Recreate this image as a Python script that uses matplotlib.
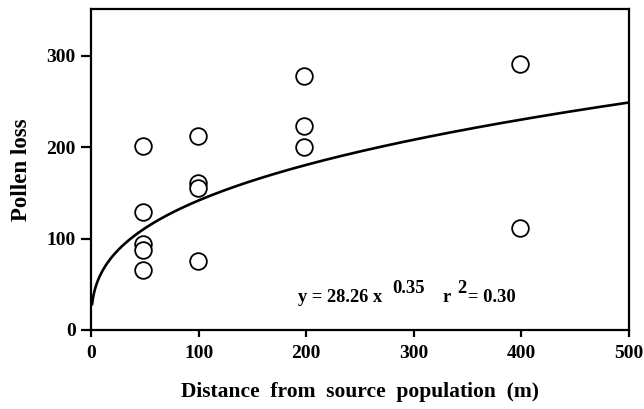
import numpy as np
import matplotlib
matplotlib.use('Agg')
import matplotlib.pyplot as plt

# distance from source (m) and pollen loss
distance = [48, 48, 48, 48, 48, 99, 99, 99, 99, 198, 198, 198, 399, 399]
pollen_loss = [201, 129, 94, 88, 66, 212, 161, 155, 75, 278, 223, 200, 291, 112]

# power fit y = a * x^b
fit_a = 28.26
fit_b = 0.35

x_ticks = [0, 100, 200, 300, 400, 500]
y_ticks = [0, 100, 200, 300]

plt.rcParams['font.family'] = ['Liberation Serif', 'DejaVu Serif']
plt.rcParams['font.weight'] = 'bold'

fig = plt.figure(figsize=(6.44, 4.09), dpi=100)
ax = fig.add_axes([0.1413, 0.1932, 0.8354, 0.7848])

xs = np.linspace(1, 500, 400)
ax.plot(xs, fit_a * xs ** fit_b, color='black', lw=1.9)
ax.plot(distance, pollen_loss, 'o', ms=12, mfc='white', mec='black', mew=1.3,
        linestyle='none')

ax.set_xlim(0, 500)
ax.set_ylim(0, 351)
ax.set_xticks(x_ticks)
ax.set_yticks(y_ticks)
ax.tick_params(axis='y', direction='out', length=7, width=1.6, labelsize=14, pad=4)
ax.tick_params(axis='x', direction='out', length=5, width=1.6, labelsize=14, pad=6)
for lab in ax.get_xticklabels() + ax.get_yticklabels():
    lab.set_fontweight('bold')
for sp in ax.spines.values():
    sp.set_linewidth(1.6)

ax.set_xlabel('Distance  from  source  population  (m)', fontsize=15.5,
              fontweight='bold', labelpad=14)
ax.set_ylabel('Pollen loss', fontsize=16.5, fontweight='bold', labelpad=10)

# fit equation, superscripts raised as separate pieces
eq_kw = dict(fontsize=13.3, fontweight='bold', ha='left', va='baseline')
sup_kw = dict(fontsize=13.3, fontweight='bold', ha='left', va='baseline')
ax.text(192, 31, 'y = 28.26 x', **eq_kw)
ax.text(280, 40, '0.35', **sup_kw)
ax.text(327, 31, 'r', **eq_kw)
ax.text(340, 40, '2', **sup_kw)
ax.text(350, 31, '= 0.30', **eq_kw)

fig.savefig('out.png', dpi=100)
